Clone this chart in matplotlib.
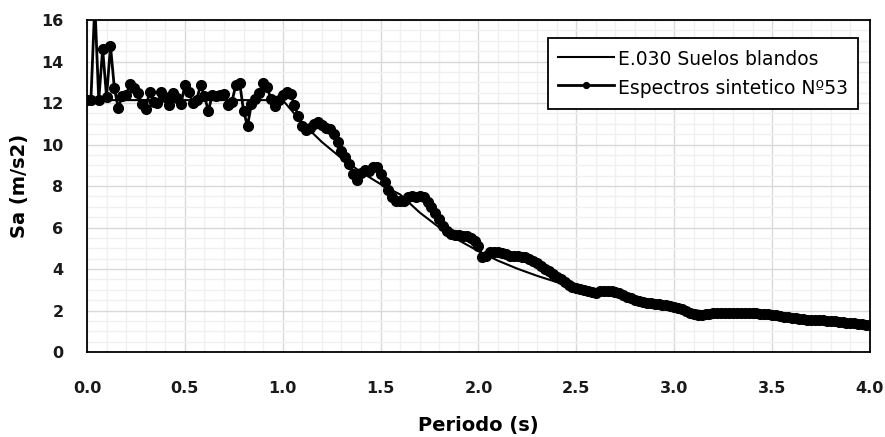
import numpy as np
import matplotlib
matplotlib.use("Agg")
import matplotlib.pyplot as plt
from matplotlib.ticker import MultipleLocator, FormatStrFormatter

plt.rcParams['font.family'] = ['DejaVu Sans']

# E.030 design spectrum (soft soil)
code_T = [0.0, 1.0, 1.1, 1.2, 1.3, 1.4, 1.5, 1.6, 1.7, 1.8, 1.9, 2.0, 2.1, 2.2,
          2.3, 2.4, 2.5, 2.6, 2.7, 2.8, 2.9, 3.0, 3.1, 3.2, 3.3, 3.4, 3.5, 3.6,
          3.7, 3.8, 3.9, 4.0]
code_sa = [12.14, 12.14, 11.04, 10.12, 9.34, 8.67, 8.09, 7.59, 6.72, 6.00,
           5.38, 4.86, 4.40, 4.01, 3.67, 3.37, 3.11, 2.87, 2.66, 2.48, 2.31,
           2.16, 2.02, 1.90, 1.78, 1.68, 1.59, 1.50, 1.42, 1.35, 1.28, 1.21]

# synthetic spectrum No 53, sampled every 0.02 s
synth_T = np.round(np.arange(0, 4.001, 0.02), 2)
synth_sa = [
    12.14, 12.14, 16.8, 12.14, 14.6, 12.3, 14.75, 12.7, 11.75, 12.35,
    12.4, 12.9, 12.7, 12.5, 11.95, 11.7, 12.55, 12.05, 12.0, 12.55,
    12.3, 11.9, 12.5, 12.25, 11.95, 12.85, 12.55, 12.0, 12.15, 12.85,
    12.35, 11.6, 12.4, 12.35, 12.4, 12.45, 11.9, 12.05, 12.85, 12.98,
    11.6, 10.9, 11.95, 12.2, 12.5, 12.95, 12.75, 12.2, 11.85, 12.15,
    12.4, 12.55, 12.45, 11.9, 11.35, 10.9, 10.7, 10.8, 11.0, 11.1,
    10.95, 10.8, 10.75, 10.5, 10.1, 9.7, 9.4, 9.05, 8.6, 8.3,
    8.65, 8.75, 8.7, 8.9, 8.9, 8.6, 8.2, 7.8, 7.45, 7.3,
    7.28, 7.3, 7.45, 7.5, 7.45, 7.5, 7.45, 7.25, 7.0, 6.7,
    6.4, 6.05, 5.85, 5.7, 5.62, 5.62, 5.6, 5.58, 5.5, 5.35,
    5.1, 4.6, 4.65, 4.8, 4.82, 4.8, 4.75, 4.7, 4.65, 4.62,
    4.62, 4.6, 4.58, 4.5, 4.4, 4.28, 4.15, 4.0, 3.88, 3.75,
    3.62, 3.5, 3.35, 3.25, 3.15, 3.1, 3.04, 3.0, 2.95, 2.88,
    2.85, 2.92, 2.96, 2.96, 2.93, 2.9, 2.84, 2.76, 2.67, 2.58,
    2.52, 2.48, 2.43, 2.38, 2.35, 2.32, 2.3, 2.28, 2.26, 2.22,
    2.18, 2.12, 2.05, 1.96, 1.88, 1.82, 1.78, 1.8, 1.83, 1.85,
    1.86, 1.87, 1.88, 1.89, 1.9, 1.9, 1.9, 1.9, 1.89, 1.88,
    1.87, 1.86, 1.85, 1.84, 1.82, 1.8, 1.77, 1.74, 1.71, 1.68,
    1.65, 1.62, 1.6, 1.58, 1.56, 1.55, 1.54, 1.53, 1.52, 1.51,
    1.5, 1.48, 1.46, 1.44, 1.42, 1.41, 1.39, 1.37, 1.34, 1.31,
    1.28]

fig = plt.figure(figsize=(8.85, 4.37), dpi=100)
ax = fig.add_axes([0.0983, 0.1945, 0.8847, 0.7597])

ax.plot(code_T, code_sa, color='black', lw=1.5, label='E.030 Suelos blandos', zorder=3)
ax.plot(synth_T, synth_sa, color='black', lw=2, marker='o', ms=7,
        label='Espectros sintetico Nº53', zorder=4)

ax.set_xlim(0, 4)
ax.set_ylim(0, 16)
ax.xaxis.set_major_locator(MultipleLocator(0.5))
ax.xaxis.set_minor_locator(MultipleLocator(0.1))
ax.yaxis.set_major_locator(MultipleLocator(2))
ax.yaxis.set_minor_locator(MultipleLocator(0.5))
ax.xaxis.set_major_formatter(FormatStrFormatter('%.1f'))

ax.grid(which='major', color='#d9d9d9', lw=1.0, zorder=1)
ax.grid(which='minor', color='#f0f0f0', lw=1.0, zorder=0)
ax.set_axisbelow(True)

for s in ax.spines.values():
    s.set_color('black')
    s.set_linewidth(1.3)

ax.tick_params(which='both', length=0)
ax.tick_params(axis='x', pad=21)
ax.tick_params(axis='y', pad=17)
for lab in ax.get_xticklabels() + ax.get_yticklabels():
    lab.set_fontsize(11.5)
    lab.set_fontweight('bold')
    lab.set_color('#1a1a1a')

ax.set_xlabel('Periodo (s)', fontsize=14, fontweight='bold', labelpad=14)
ax.set_ylabel('Sa (m/s2)', fontsize=14, fontweight='bold', labelpad=9)

leg = ax.legend(loc='upper right', bbox_to_anchor=(0.985, 0.946), borderaxespad=0,
                fontsize=13.5, fancybox=False, framealpha=1, edgecolor='black',
                handlelength=3.0, handletextpad=0.2, handleheight=1.4,
                markerscale=0.6, borderpad=0.55, labelspacing=0.37)
leg.get_frame().set_linewidth(1.3)

fig.savefig('out.png', dpi=100)
